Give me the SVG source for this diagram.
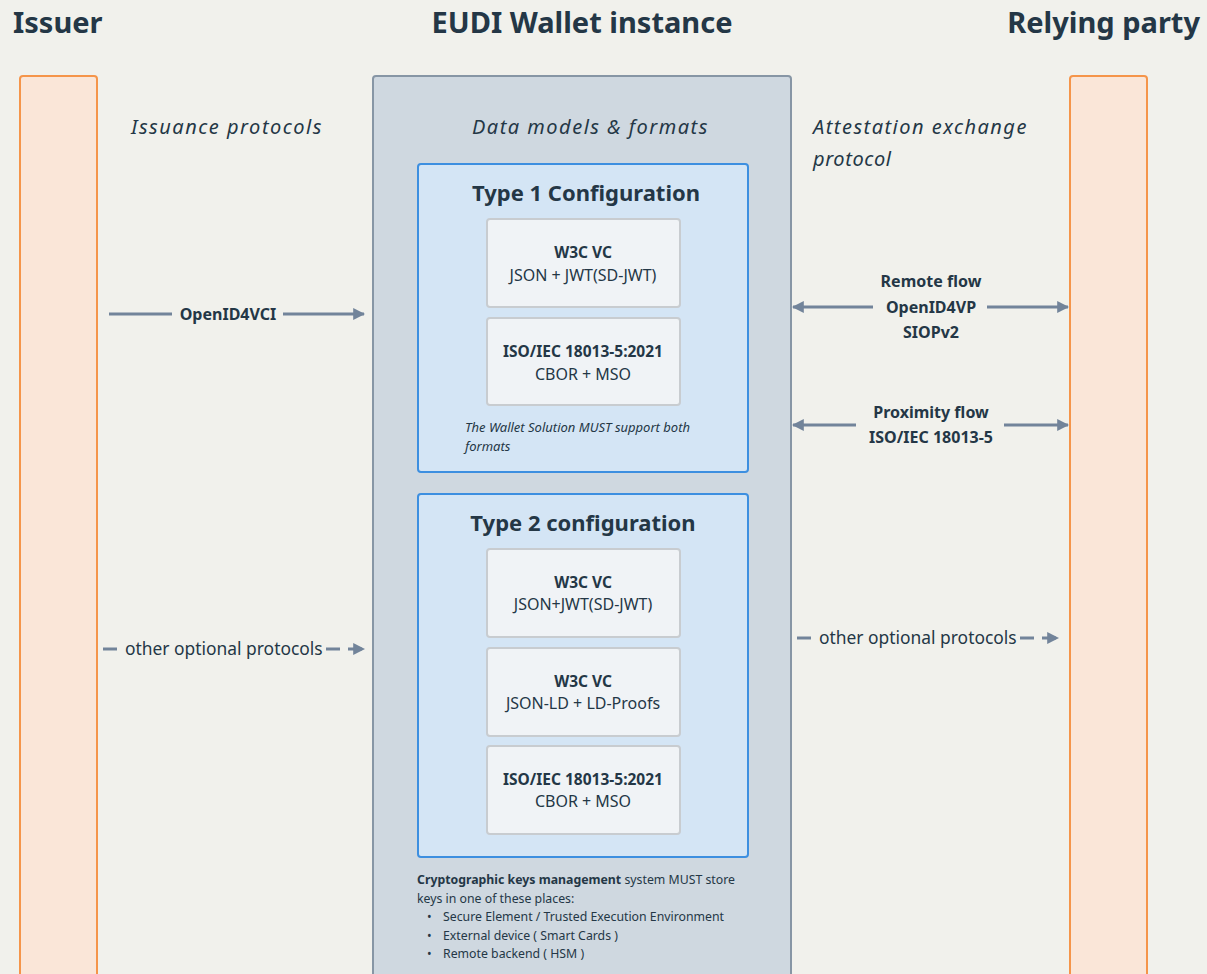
<svg xmlns="http://www.w3.org/2000/svg" width="1207" height="974" viewBox="0 0 1207 974">
<defs>
<marker id="ah" viewBox="0 0 10 10" refX="9" refY="5" markerWidth="4" markerHeight="4" orient="auto-start-reverse" markerUnits="strokeWidth">
<path d="M0,0 L10,5 L0,10 z" fill="#72849a"/>
</marker>
<style>
text{font-family:"Noto Sans","DejaVu Sans",sans-serif;fill:#243746}
.h{font-size:29px;font-weight:700}
.it{font-size:20px;font-style:italic;letter-spacing:0.6px}
.lane{fill:#fae6d8;stroke:#f5954a;stroke-width:2}
.wallet{fill:#cfd8e0;stroke:#8796a5;stroke-width:2}
.cfg{fill:#d4e5f5;stroke:#3d8fe0;stroke-width:2}
.fmt{fill:#f0f3f6;stroke:#c8ccd0;stroke-width:2}
.ct{font-size:22px;font-weight:700;text-anchor:middle}
.fb{font-size:15.5px;font-weight:700;text-anchor:middle}
.fr{font-size:16px;text-anchor:middle}
.cl{fill:none;stroke:#72849a;stroke-width:3}
.dash{stroke-dasharray:14 8}
.lb{font-size:16px;font-weight:700;text-anchor:middle}
.lr{font-size:17.4px}
.sm{font-size:12.3px}
</style>
</defs>
<rect width="1207" height="974" fill="#f1f1ec"/>
<g id="issuer">
<text class="h" x="13" y="33">Issuer</text>
<rect class="lane" x="20" y="76" width="77" height="920" rx="3"/>
</g>
<g id="wallet">
<text class="h" x="582" y="33" text-anchor="middle">EUDI Wallet instance</text>
<rect class="wallet" x="373" y="76" width="418" height="920" rx="3"/>
<text class="it" x="590" y="134" text-anchor="middle" textLength="236">Data models &amp; formats</text>
</g>
<g id="relying-party">
<text class="h" x="1200" y="33" text-anchor="end">Relying party</text>
<rect class="lane" x="1070" y="76" width="77" height="920" rx="3"/>
</g>
<g id="issuance-label"><text class="it" x="131" y="134" textLength="191">Issuance protocols</text></g>
<g id="attestation-label"><text class="it" x="813" y="134" textLength="214">Attestation exchange</text><text class="it" x="813" y="166">protocol</text></g>
<g id="type1">
<rect class="cfg" x="418" y="164" width="330" height="308" rx="3"/>
<text class="ct" x="586" y="201">Type 1 Configuration</text>
</g>
<g id="t1-w3c">
<rect class="fmt" x="487" y="219" width="193" height="88" rx="3"/>
<text class="fb" x="583" y="258">W3C VC</text>
<text class="fr" x="583" y="281">JSON + JWT(SD-JWT)</text>
</g>
<g id="t1-iso">
<rect class="fmt" x="487" y="318" width="193" height="87" rx="3"/>
<text class="fb" x="583" y="357">ISO/IEC 18013-5:2021</text>
<text class="fr" x="583" y="380">CBOR + MSO</text>
</g>
<g id="t1-note">
<text x="465" y="432" font-style="italic" font-size="13">The Wallet Solution MUST support both</text>
<text x="465" y="451" font-style="italic" font-size="13">formats</text>
</g>
<g id="type2">
<rect class="cfg" x="418" y="494" width="330" height="363" rx="3"/>
<text class="ct" x="583" y="531">Type 2 configuration</text>
</g>
<g id="t2-w3c-jwt">
<rect class="fmt" x="487" y="549" width="193" height="88" rx="3"/>
<text class="fb" x="583" y="588">W3C VC</text>
<text class="fr" x="583" y="610">JSON+JWT(SD-JWT)</text>
</g>
<g id="t2-w3c-ld">
<rect class="fmt" x="487" y="648" width="193" height="88" rx="3"/>
<text class="fb" x="583" y="687">W3C VC</text>
<text class="fr" x="583" y="709">JSON-LD + LD-Proofs</text>
</g>
<g id="t2-iso">
<rect class="fmt" x="487" y="746" width="193" height="88" rx="3"/>
<text class="fb" x="583" y="785">ISO/IEC 18013-5:2021</text>
<text class="fr" x="583" y="807">CBOR + MSO</text>
</g>
<g id="crypto-note">
<text class="sm" x="417" y="884"><tspan font-weight="700">Cryptographic keys management</tspan> system MUST store</text>
<text class="sm" x="417" y="903">keys in one of these places:</text>
<text class="sm" x="427" y="921">•</text><text class="sm" x="443" y="921">Secure Element / Trusted Execution Environment</text>
<text class="sm" x="427" y="940">•</text><text class="sm" x="443" y="940">External device ( Smart Cards )</text>
<text class="sm" x="427" y="958">•</text><text class="sm" x="443" y="958">Remote backend ( HSM )</text>
</g>
<g id="connectors">
<path class="cl" d="M109,314 H172"/>
<path class="cl" d="M283,314 H364" marker-end="url(#ah)"/>
<text class="lb" x="228" y="320">OpenID4VCI</text>
<path class="cl" d="M987,307 H1068" marker-end="url(#ah)"/>
<path class="cl" d="M873,307 H793" marker-end="url(#ah)"/>
<text class="lb" x="931" y="287">Remote flow</text>
<text class="lb" x="931" y="313">OpenID4VP</text>
<text class="lb" x="931" y="338">SIOPv2</text>
<path class="cl" d="M856,425 H793" marker-end="url(#ah)"/>
<path class="cl" d="M1004,425 H1068" marker-end="url(#ah)"/>
<text class="lb" x="931" y="418">Proximity flow</text>
<text class="lb" x="931" y="443">ISO/IEC 18013-5</text>
<path class="cl" d="M103,649 H117"/>
<path class="cl dash" d="M326,649 H364" marker-end="url(#ah)"/>
<text class="lr" x="125" y="655">other optional protocols</text>
<path class="cl" d="M797,638 H811"/>
<path class="cl dash" d="M1020,638 H1058" marker-end="url(#ah)"/>
<text class="lr" x="819" y="644">other optional protocols</text>
</g>
</svg>
